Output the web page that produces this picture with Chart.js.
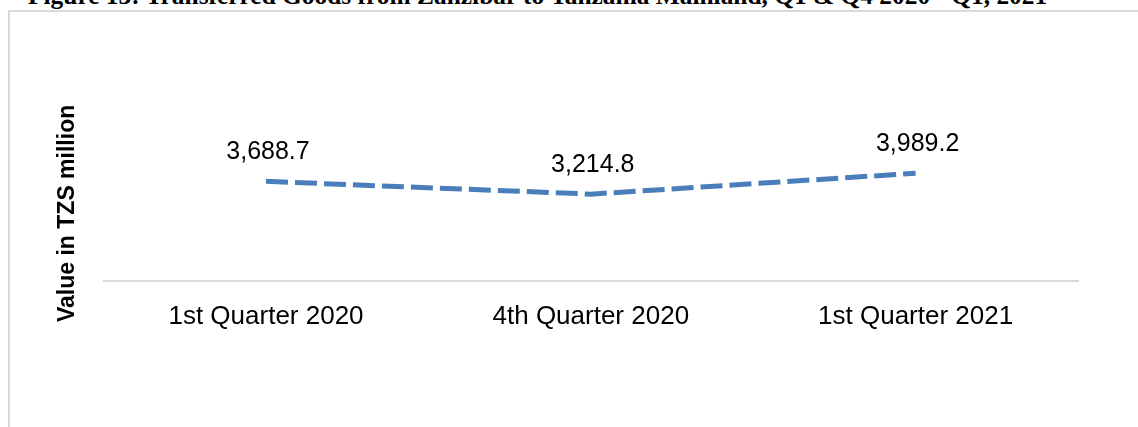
<!DOCTYPE html>
<html>
<head>
<meta charset="utf-8">
<script src="https://cdn.jsdelivr.net/npm/chart.js@4.4.1/dist/chart.umd.min.js"></script>
<style>
  html, body { margin: 0; padding: 0; background: #ffffff; }
  body { width: 1138px; height: 427px; position: relative; overflow: hidden; }
  #fig-title {
    position: absolute; left: 28px; top: -17.3px; white-space: nowrap;
    font-family: "Liberation Serif", "Times New Roman", serif; font-weight: bold;
    font-size: 25.4px; line-height: 25.4px; color: #000;
  }
  #frame {
    position: absolute; left: 8px; top: 10px; right: 0; bottom: -10px;
    border-top: 2px solid #d9d9d9; border-left: 2px solid #d9d9d9;
  }
  #wrap { position: absolute; left: 0; top: 0; width: 1138px; height: 427px; }
</style>
</head>
<body>
<div id="fig-title">Figure 13: Transferred Goods from Zanzibar to Tanzania Mainland, Q1 &amp; Q4 2020 - Q1, 2021</div>
<div id="frame"></div>
<div id="wrap"><canvas id="c" width="1138" height="427"></canvas></div>
<script>
const categories = ["1st Quarter 2020", "4th Quarter 2020", "1st Quarter 2021"];
const values = [3688.7, 3214.8, 3989.2];
const yAxisTitle = "Value in TZS million";

const valueLabels = {
  id: 'valueLabels',
  afterDatasetsDraw(chart) {
    const ctx = chart.ctx;
    const meta = chart.getDatasetMeta(0);
    ctx.save();
    ctx.font = '25px "Liberation Sans", Arial, sans-serif';
    ctx.fillStyle = '#000000';
    ctx.textAlign = 'center';
    ctx.textBaseline = 'alphabetic';
    meta.data.forEach((pt, i) => {
      const v = chart.data.datasets[0].data[i];
      const txt = v.toLocaleString('en-US', { minimumFractionDigits: 1, maximumFractionDigits: 1 });
      ctx.fillText(txt, pt.x + 2, pt.y - 22);
    });
    ctx.restore();
  }
};

new Chart(document.getElementById('c'), {
  type: 'line',
  data: {
    labels: categories,
    datasets: [{
      data: values,
      borderColor: '#4a7ebb',
      borderWidth: 5,
      borderDash: [22, 7],
      borderCapStyle: 'butt',
      pointRadius: 0,
      pointHoverRadius: 0,
      tension: 0,
      fill: false
    }]
  },
  options: {
    responsive: false,
    animation: false,
    devicePixelRatio: 1,
    layout: { padding: { left: 33, right: 60, top: 146, bottom: 83 } },
    plugins: { legend: { display: false }, tooltip: { enabled: false }, title: { display: false } },
    scales: {
      x: {
        type: 'category',
        offset: true,
        grid: { display: false },
        border: { display: true, color: '#d9d9d9', width: 2 },
        ticks: { color: '#000000', padding: 12, maxRotation: 0, font: { family: '"Liberation Sans", Arial, sans-serif', size: 26 } }
      },
      y: {
        min: 0, max: 5000,
        grid: { display: false },
        border: { display: false },
        ticks: { display: false },
        title: {
          display: true, text: yAxisTitle, color: '#000000',
          padding: { top: 21, bottom: 14 },
          font: { family: '"Liberation Sans", Arial, sans-serif', size: 23, weight: 'bold', lineHeight: 1.2 }
        }
      }
    }
  },
  plugins: [valueLabels]
});
</script>
</body>
</html>
